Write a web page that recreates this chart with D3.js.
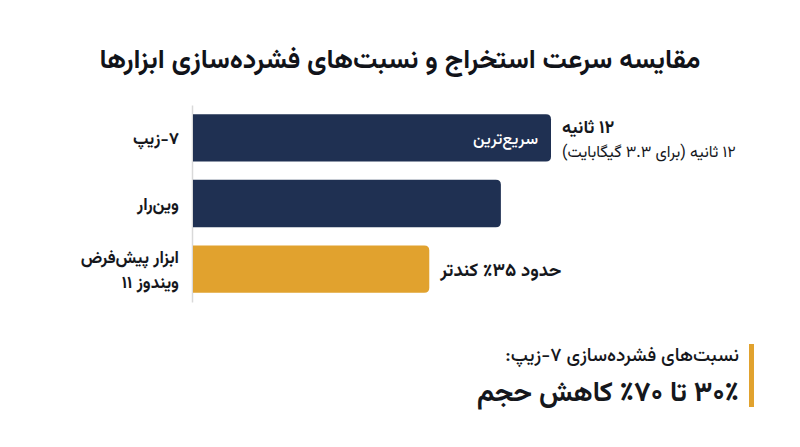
<!DOCTYPE html>
<html lang="fa">
<head>
<meta charset="utf-8">
<script src="https://cdn.jsdelivr.net/npm/d3@7/dist/d3.min.js"></script>
<style>
  html, body { margin: 0; padding: 0; background: #ffffff; }
  svg { display: block; }
  text { font-family: "Vazirmatn", "Noto Sans Arabic", "DejaVu Sans", sans-serif; }
</style>
</head>
<body>
<svg id="chart" width="800" height="447"></svg>
<script>
// ---- data ----
const title = "مقایسه سرعت استخراج و نسبت‌های فشرده‌سازی ابزارها";
const categories = ["۷-زیپ", "وین‌رار", "ابزار پیش‌فرض\nویندوز ۱۱"];
const speedValues = [100, 86, 66];           // relative extraction speed (7-Zip = 100)
const barColors = ["#1f3052", "#1f3052", "#e1a22e"];
const insideLabels = ["سریع‌ترین", "", ""];
const annotationTitle = ["۱۲ ثانیه", "", ""];
const annotationText = ["۱۲ ثانیه (برای ۳.۳ گیگابایت)", "", "حدود ۳۵٪ کندتر"];
const calloutLabel = "نسبت‌های فشرده‌سازی ۷-زیپ:";
const calloutValue = "۳۰٪ تا ۷۰٪ کاهش حجم";

const svg = d3.select("#chart");
const W = 800, H = 447;

// title
svg.append("text")
  .attr("x", W / 2).attr("y", 68)
  .attr("text-anchor", "middle")
  .attr("direction", "rtl")
  .style("font-size", "27px").style("font-weight", 700)
  .attr("fill", "#111319")
  .text(title);

const y = d3.scaleBand().domain(categories).range([105, 302]).paddingInner(0.28).paddingOuter(0.14);
const x = d3.scaleLinear().domain([0, 100]).range([193, 551]);

// axis line (left baseline)
const axis = d3.axisLeft(y).tickSize(0).tickFormat("");
const ag = svg.append("g").attr("transform", `translate(${x(0) - 1},0)`).call(axis);
ag.select(".domain").attr("stroke", "#d9d9d9").attr("stroke-width", 1.5);

const r = 5;
function barPath(x0, x1, y0, h) {
  const rr = Math.min(r, (x1 - x0) / 2);
  return `M${x0},${y0} H${x1 - rr} Q${x1},${y0} ${x1},${y0 + rr} V${y0 + h - rr} Q${x1},${y0 + h} ${x1 - rr},${y0 + h} H${x0} Z`;
}

const rows = categories.map((c, i) => ({
  cat: c, v: speedValues[i], color: barColors[i],
  inside: insideLabels[i], aTitle: annotationTitle[i], aText: annotationText[i]
}));

const g = svg.append("g");
g.selectAll("path.bar").data(rows).join("path")
  .attr("class", "bar")
  .attr("d", d => barPath(x(0), x(d.v), y(d.cat), y.bandwidth()))
  .attr("fill", d => d.color);

// category labels (each line its own text element)
rows.forEach(d => {
  const lines = d.cat.split("\n");
  const cy = y(d.cat) + y.bandwidth() / 2;
  const lh = 25;
  lines.forEach((ln, k) => {
    svg.append("text")
      .attr("direction", "rtl")
      .attr("text-anchor", "start")
      .attr("x", 179)
      .attr("y", cy + (k - (lines.length - 1) / 2) * lh + 6)
      .style("font-size", "17px").style("font-weight", 700)
      .attr("fill", "#15171c")
      .text(ln);
  });
});

// inside labels
g.selectAll("text.inside").data(rows.filter(d => d.inside)).join("text")
  .attr("class", "inside")
  .attr("direction", "rtl")
  .attr("text-anchor", "start")
  .attr("x", d => x(d.v) - 13)
  .attr("y", d => y(d.cat) + y.bandwidth() / 2 + 6)
  .style("font-size", "16.5px").style("font-weight", 500)
  .attr("fill", "#ffffff")
  .text(d => d.inside);

// annotations right of bars (left-aligned)
rows.forEach(d => {
  const cy = y(d.cat) + y.bandwidth() / 2;
  if (d.aTitle) {
    svg.append("text")
      .attr("direction", "rtl").attr("text-anchor", "end")
      .attr("x", x(d.v) + 11).attr("y", cy - 5)
      .style("font-size", "18px").style("font-weight", 700)
      .attr("fill", "#15171c")
      .text(d.aTitle);
    svg.append("text")
      .attr("direction", "rtl").attr("text-anchor", "end")
      .attr("x", x(d.v) + 11).attr("y", cy + 19)
      .style("font-size", "16px").style("font-weight", 400)
      .attr("fill", "#15171c")
      .text(d.aText);
  } else if (d.aText) {
    svg.append("text")
      .attr("direction", "rtl").attr("text-anchor", "end")
      .attr("x", x(d.v) + 11).attr("y", cy + 7)
      .style("font-size", "18.5px").style("font-weight", 700)
      .attr("fill", "#15171c")
      .text(d.aText);
  }
});

// callout
svg.append("rect").attr("x", 749).attr("y", 344).attr("width", 5).attr("height", 63).attr("fill", "#e1a22e");
svg.append("text")
  .attr("direction", "rtl").attr("text-anchor", "start")
  .attr("x", 739).attr("y", 361)
  .style("font-size", "19px").style("font-weight", 500)
  .attr("fill", "#15171c")
  .text(calloutLabel);
svg.append("text")
  .attr("direction", "rtl").attr("text-anchor", "start")
  .attr("x", 739).attr("y", 401)
  .style("font-size", "27.5px").style("font-weight", 700)
  .attr("fill", "#15171c")
  .text(calloutValue);
</script>
</body>
</html>
